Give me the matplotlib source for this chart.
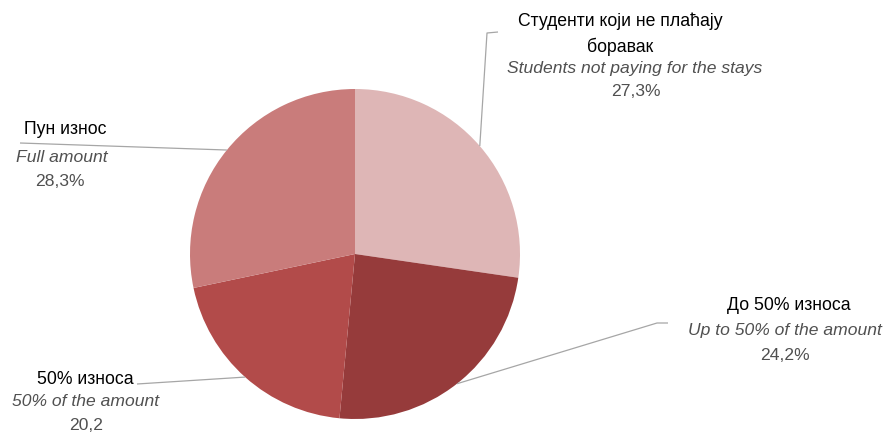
import numpy as np
import matplotlib.pyplot as plt

plt.rcParams['font.family'] = ['Liberation Sans Narrow', 'Liberation Sans', 'DejaVu Sans']

# data
categories_sr = ['Студенти који не плаћају\nборавак', 'До 50% износа', '50% износа', 'Пун износ']
categories_en = ['Students not paying for the stays', 'Up to 50% of the amount',
                 '50% of the amount', 'Full amount']
values = [27.3, 24.2, 20.2, 28.3]
value_labels = ['27,3%', '24,2%', '20,2', '28,3%']
colors = ['#DEB6B6', '#963B3B', '#B24B4A', '#C97C7B']

W, H = 884, 434
fig = plt.figure(figsize=(W / 100, H / 100), dpi=100)
ax = fig.add_axes([0, 0, 1, 1])

cx, cy, r = 355, H - 254, 165
ax.pie(values, colors=colors, startangle=90, counterclock=False,
       center=(cx, cy), radius=r, frame=True,
       wedgeprops=dict(linewidth=0))
ax.set_xlim(0, W)
ax.set_ylim(0, H)
ax.set_aspect('equal')
ax.axis('off')

# label layout (image pixel coords): name pos, en pos, value pos, elbow points
layout = [
    dict(name=(620, 34), en=(635, 68), val=(636, 92), path=[(487, 33), (498, 32)]),
    dict(name=(789, 305), en=(785, 330), val=(785, 355), path=[(657, 323), (668, 323)]),
    dict(name=(85, 380), en=(86, 402), val=(86, 425), path=[(137, 384)]),
    dict(name=(65, 130), en=(62, 157), val=(60, 182), path=[(20, 143)]),
]

cum = np.cumsum([0] + values[:-1])
total = sum(values)
for i, lay in enumerate(layout):
    mid = 90 - (cum[i] + values[i] / 2) / total * 360
    sx = cx + r * np.cos(np.radians(mid))
    sy = cy + r * np.sin(np.radians(mid))
    xs = [sx] + [p[0] for p in lay['path']]
    ys = [sy] + [H - p[1] for p in lay['path']]
    ax.plot(xs, ys, color='#A6A6A6', linewidth=0.9, solid_capstyle='butt')
    nx, ny = lay['name']
    ax.text(nx, H - ny, categories_sr[i], ha='center', va='center', fontsize=12.7,
            color='black', linespacing=1.55)
    ex, ey = lay['en']
    ax.text(ex, H - ey, categories_en[i], ha='center', va='center', fontsize=12.6,
            color='#505050', style='italic')
    vx, vy = lay['val']
    ax.text(vx, H - vy, value_labels[i], ha='center', va='center', fontsize=12.6,
            color='#505050')

fig.savefig('out.png', dpi=100)
